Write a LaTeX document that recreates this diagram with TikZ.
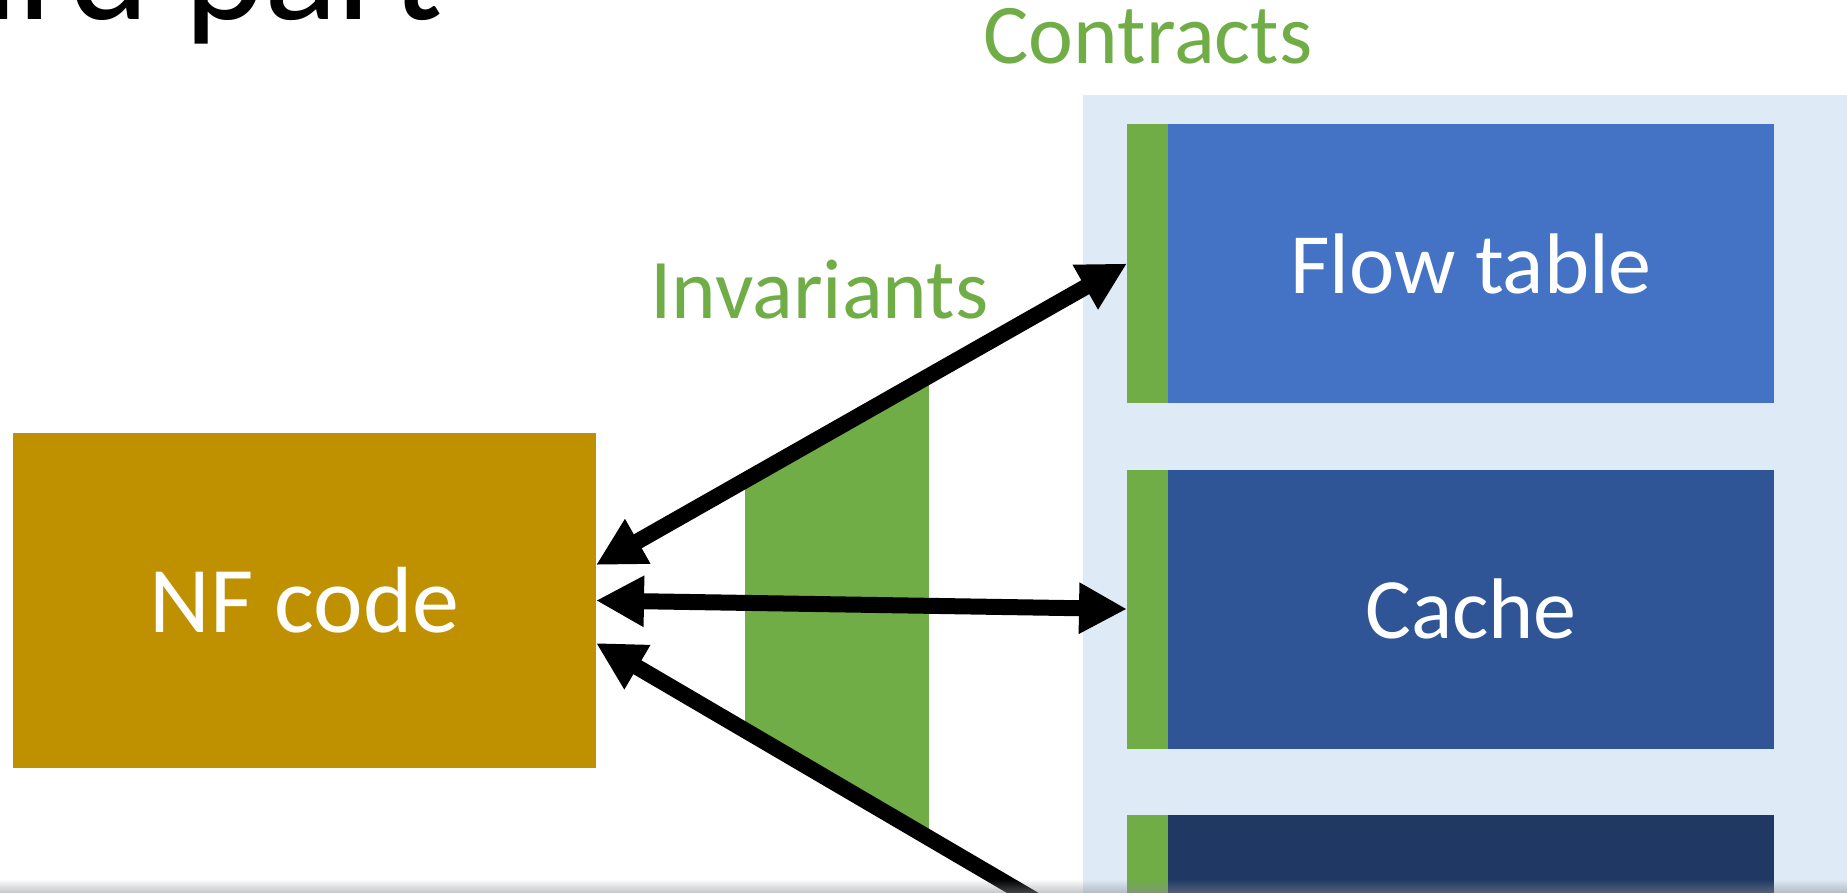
\documentclass[tikz,border=0pt]{standalone}
\usepackage{fontspec}
\setmainfont{Carlito}
\usetikzlibrary{arrows.meta}

\definecolor{panelblue}{RGB}{222,235,247}
\definecolor{invgreen}{RGB}{112,173,71}
\definecolor{flowblue}{RGB}{68,114,196}
\definecolor{cacheblue}{RGB}{47,85,151}
\definecolor{deepblue}{RGB}{32,56,100}
\definecolor{nfgold}{RGB}{191,144,0}
\definecolor{hazegray}{RGB}{138,140,146}

\begin{document}
\begin{tikzpicture}[x=0.5pt,y=-0.5pt,
  every node/.style={inner sep=0pt, outer sep=0pt},
  block/.style={fill=#1, draw=none, minimum width=303pt, minimum height=139.5pt,
    text=white, font=\fontsize{43}{50}\selectfont},
  bar/.style={fill=invgreen, draw=none, minimum width=20.5pt, minimum height=139.5pt},
  greenlabel/.style={text=invgreen, anchor=base, font=\fontsize{42.5}{50}\selectfont},
  link/.style={line width=8pt,
    {Triangle[length=24pt,width=24pt]}-{Triangle[length=24pt,width=24pt]}},
]
\useasboundingbox (0,0) rectangle (1847,893);
\clip (0,0) rectangle (1847,893);

% slide heading, cut by the top edge
\node[anchor=base west, font=\fontsize{76.5}{90}\selectfont] (heading) at (-17,20) {ird part};

% contracts panel
\fill[panelblue] (1083,95) rectangle (1900,950);
\node[greenlabel] (contracts) at (1148,64) {Contracts};

% data structures with their contract strips
\node[block=flowblue]  (flow)  at (1471,263.5) {Flow table};
\node[block=cacheblue] (cache) at (1471,609)   {Cache};
\node[block=deepblue]  (deep)  at (1471,954)   {};
\node[bar, anchor=east] (flowbar)  at (flow.west)  {};
\node[bar, anchor=east] (cachebar) at (cache.west) {};
\node[bar, anchor=east] (deepbar)  at (deep.west)  {};

% network function code
\node[fill=nfgold, minimum width=291.5pt, minimum height=167.5pt,
      text=white, font=\fontsize{47}{55}\selectfont] (nf) at (304.5,600.5) {NF code};

\coordinate (nfup)  at ([yshift=17.75pt]nf.east);
\coordinate (nfmid) at (nf.east);
\coordinate (nflow) at ([yshift=-21.25pt]nf.east);

% invariant band between the outer links
\begin{scope}
  \clip (nfup) -- (flowbar.west) -- (deepbar.west) -- (nflow) -- cycle;
  \fill[invgreen] (745,300) rectangle (929,950);
\end{scope}
\node[greenlabel] (invariants) at (819.5,319) {Invariants};

% links
\draw[link] (nfup)  -- (flowbar.west);
\draw[link] (nfmid) -- (cachebar.west);
\draw[link] (nflow) -- (deepbar.west);

% soft shadow along the lower edge
\foreach \k [evaluate=\k as \op using 0.47*(\k+1)/13] in {0,...,12}
  \fill[hazegray, opacity=\op] (0,880+\k) rectangle (1847,881+\k);
\end{tikzpicture}
\end{document}
